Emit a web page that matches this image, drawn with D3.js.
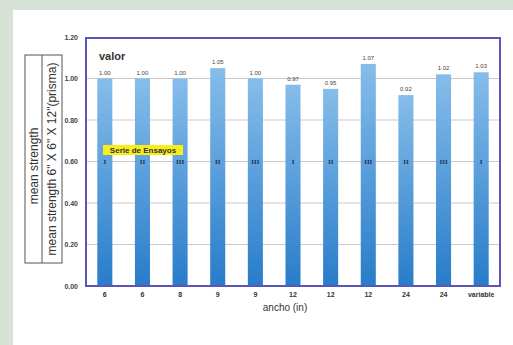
<!DOCTYPE html>
<html>
<head>
<meta charset="utf-8">
<script src="https://cdn.jsdelivr.net/npm/d3@7"></script>
<style>
  html, body { margin: 0; padding: 0; background: #d7e2d6; }
  svg { display: block; font-family: "Liberation Sans", Arial, sans-serif; }
</style>
</head>
<body>
<svg id="chart" width="513" height="345"></svg>
<script>
// Widths tested (in) and the mean strength ratio of each series
const categories = ["6", "6", "8", "9", "9", "12", "12", "12", "24", "24", "variable"];
const values = [1.00, 1.00, 1.00, 1.05, 1.00, 0.97, 0.95, 1.07, 0.92, 1.02, 1.03];
const valueLabels = ["1.00", "1.00", "1.00", "1.05", "1.00", "0.97", "0.95", "1.07", "0.92", "1.02", "1.03"];
const series = ["I", "II", "III", "II", "III", "I", "II", "III", "II", "III", "I"];
const yTicks = [0, 0.2, 0.4, 0.6, 0.8, 1.0, 1.2];

const svg = d3.select("#chart");

// white sheet on the tinted page
svg.append("rect").attr("x", 13).attr("y", 10).attr("width", 500).attr("height", 335).attr("fill", "#ffffff");

const plot = { left: 86, right: 500, top: 37, bottom: 286 };

const x = d3.scaleBand()
  .domain(d3.range(categories.length))
  .range([plot.left, plot.right])
  .paddingInner(0.6)
  .paddingOuter(0.3);

const y = d3.scaleLinear().domain([0, 1.2]).range([plot.bottom, plot.top]);

// gradient for the bars
const defs = svg.append("defs");
const grad = defs.append("linearGradient").attr("id", "barGrad")
  .attr("x1", 0).attr("y1", 0).attr("x2", 0).attr("y2", 1);
grad.append("stop").attr("offset", "0%").attr("stop-color", "#86bdea");
grad.append("stop").attr("offset", "100%").attr("stop-color", "#287cca");

// horizontal gridlines
svg.append("g").selectAll("line")
  .data(yTicks.filter(t => t > 0 && t < 1.2))
  .join("line")
  .attr("x1", plot.left).attr("x2", plot.right)
  .attr("y1", d => y(d)).attr("y2", d => y(d))
  .attr("stroke", "#c9c9c9").attr("stroke-width", 1);

// bars
svg.append("g").selectAll("rect")
  .data(values)
  .join("rect")
  .attr("x", (d, i) => x(i))
  .attr("width", x.bandwidth())
  .attr("y", d => y(d))
  .attr("height", d => y(0) - y(d))
  .attr("fill", "url(#barGrad)");

// value labels above bars
svg.append("g").selectAll("text")
  .data(values)
  .join("text")
  .attr("x", (d, i) => x(i) + x.bandwidth() / 2)
  .attr("y", d => y(d) - 4)
  .attr("text-anchor", "middle")
  .attr("font-size", 6)
  .attr("fill", "#444")
  .text((d, i) => valueLabels[i]);

// series numerals inside bars
svg.append("g").selectAll("text")
  .data(series)
  .join("text")
  .attr("x", (d, i) => x(i) + x.bandwidth() / 2)
  .attr("y", y(0.6) + 2.5)
  .attr("text-anchor", "middle")
  .attr("font-size", 7)
  .attr("font-weight", "bold")
  .attr("font-family", "'Liberation Serif', serif")
  .attr("fill", "#1f3350")
  .text(d => d);

// series caption
const cap = svg.append("g");
cap.append("rect").attr("x", 103).attr("y", 145).attr("width", 80).attr("height", 10).attr("fill", "#f7ee1c");
cap.append("text").attr("x", 143).attr("y", 153).attr("text-anchor", "middle")
  .attr("font-size", 8).attr("font-weight", "bold").attr("fill", "#333")
  .text("Serie de Ensayos");

// "valor" tag
svg.append("text").attr("x", 99).attr("y", 60).attr("font-size", 11).attr("font-weight", "bold")
  .attr("fill", "#333").text("valor");

// plot frame
svg.append("rect")
  .attr("x", plot.left).attr("y", plot.top + 1)
  .attr("width", plot.right - plot.left).attr("height", plot.bottom - plot.top - 1)
  .attr("fill", "none").attr("stroke", "#5b57b8").attr("stroke-width", 2);

// y axis labels
const yAxis = d3.axisLeft(y).tickValues(yTicks).tickFormat(d3.format(".2f")).tickSize(0).tickPadding(8);
const gy = svg.append("g").attr("transform", `translate(${plot.left},0)`).call(yAxis);
gy.select(".domain").remove();
gy.selectAll("text").attr("font-size", 7).attr("font-weight", "bold").attr("fill", "#444")
  .attr("font-family", "'Liberation Sans', Arial, sans-serif");

// x axis labels
const xAxis = d3.axisBottom(x).tickFormat(i => categories[i]).tickSize(0).tickPadding(6);
const gx = svg.append("g").attr("transform", `translate(0,${plot.bottom})`).call(xAxis);
gx.select(".domain").remove();
gx.selectAll("text").attr("font-size", 7).attr("font-weight", "bold").attr("fill", "#333")
  .attr("font-family", "'Liberation Sans', Arial, sans-serif");

// x axis title
svg.append("text").attr("x", 285).attr("y", 311).attr("text-anchor", "middle")
  .attr("font-size", 10).attr("fill", "#333").text("ancho (in)");

// y axis title box with two stacked titles
const box = svg.append("g");
box.append("rect").attr("x", 25).attr("y", 55).attr("width", 37).attr("height", 208)
  .attr("fill", "#fff").attr("stroke", "#555").attr("stroke-width", 1);
box.append("line").attr("x1", 42).attr("x2", 42).attr("y1", 55).attr("y2", 263)
  .attr("stroke", "#555").attr("stroke-width", 1);
box.append("text").attr("transform", "translate(37.5,166) rotate(-90)").attr("text-anchor", "middle")
  .attr("font-size", 12).attr("fill", "#333").text("mean strength");
box.append("text").attr("transform", "translate(56,159) rotate(-90)").attr("text-anchor", "middle")
  .attr("font-size", 12).attr("fill", "#333").text("mean strength 6\" X 6\" X 12\"(prisma)");
</script>
</body>
</html>
